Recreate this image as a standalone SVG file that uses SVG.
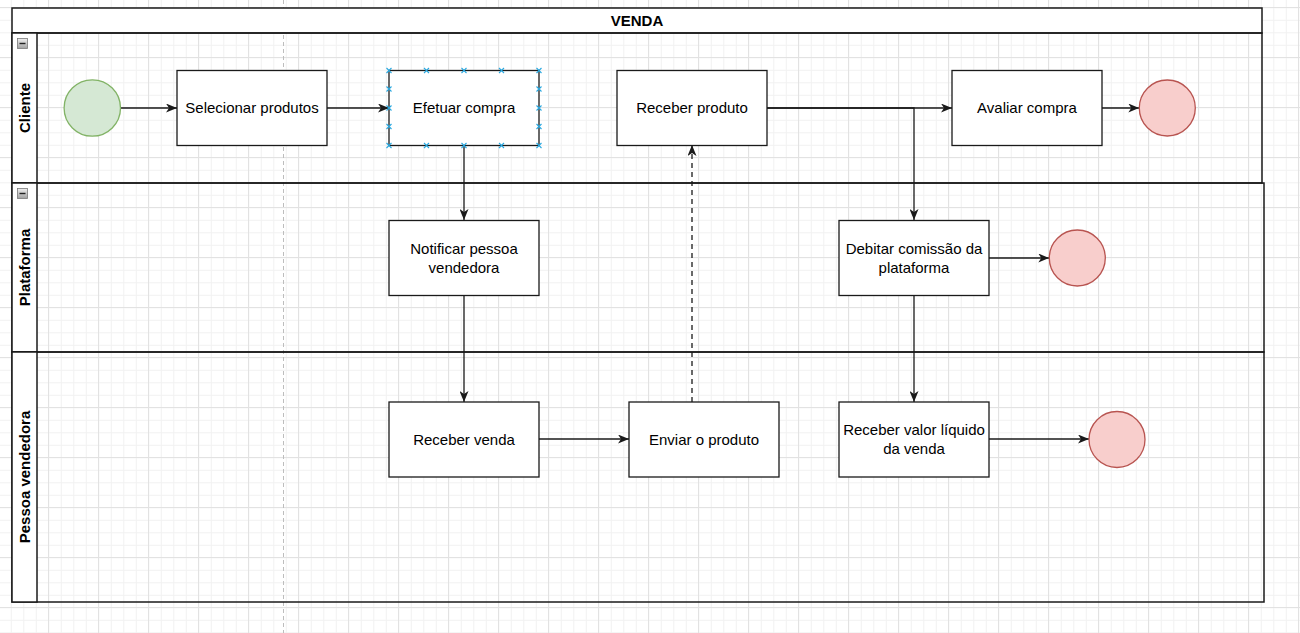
<svg xmlns="http://www.w3.org/2000/svg" width="1300" height="633" viewBox="0 0 1300 633">
  <style>
    .node{fill:#ffffff;stroke:#1a1a1a;stroke-width:1.3}
    .lane{fill:none;stroke:#1a1a1a;stroke-width:1.5}
    .col{fill:#ffffff;stroke:#1a1a1a;stroke-width:1.5}
    .t{font-family:"Liberation Sans",Arial,Helvetica,sans-serif;font-size:15px;text-anchor:middle;fill:#000000}
    .lbl{font-family:"Liberation Sans",Arial,Helvetica,sans-serif;font-size:15px;font-weight:bold;text-anchor:middle;fill:#000000}
    .start{fill:#d5e8d4;stroke:#82b366;stroke-width:1.3}
    .end{fill:#f8cecc;stroke:#b85450;stroke-width:1.3}
    .edge{fill:none;stroke:#1a1a1a;stroke-width:1.3}
    .dash{stroke-dasharray:5,4}
    .sel{fill:none;stroke:#29a8e0;stroke-width:1.1}
    .icon{fill:url(#ig);stroke:#7a7a7a;stroke-width:0.8}
  </style>
  <defs>
    <pattern id="minor" patternUnits="userSpaceOnUse" x="10.8" y="7.3" width="12.5" height="12.5">
      <path d="M0.5,0 V12.5 M0,0.5 H12.5" stroke="#f1f1f1" stroke-width="1" fill="none"/>
    </pattern>
    <pattern id="major" patternUnits="userSpaceOnUse" x="48" y="7" width="50" height="50">
      <path d="M0.5,0 V50 M0,0.5 H50" stroke="#e2e2e2" stroke-width="1" fill="none"/>
    </pattern>
    <linearGradient id="ig" x1="0" y1="0" x2="0" y2="1">
      <stop offset="0" stop-color="#f0f0f0"/>
      <stop offset="1" stop-color="#a0a0a0"/>
    </linearGradient>
    <marker id="arr" markerUnits="userSpaceOnUse" viewBox="0 0 11 9" refX="11" refY="4.5" markerWidth="11" markerHeight="9" orient="auto">
      <path d="M0,0 L11,4.5 L0,9 L3,4.5 Z" fill="#1a1a1a"/>
    </marker>
  </defs>

  <!-- background grid -->
  <rect x="0" y="0" width="1300" height="633" fill="#ffffff"/>
  <rect x="0" y="0" width="1300" height="633" fill="url(#minor)"/>
  <rect x="0" y="0" width="1300" height="633" fill="url(#major)"/>
  <!-- page break -->
  <line x1="283.5" y1="0" x2="283.5" y2="633" stroke="#bdbdbd" stroke-width="1" stroke-dasharray="4,3"/>

  <!-- pool -->
  <g id="pool">
    <rect x="12" y="8" width="1250" height="25" class="col"/>
    <text x="637" y="25.5" class="lbl">VENDA</text>
  </g>
  <g id="lane-cliente">
    <rect x="12" y="33" width="1250" height="150" class="lane"/>
    <rect x="12" y="33" width="25" height="150" class="col"/>
    <rect x="17.5" y="38.5" width="10" height="10" class="icon"/>
    <line x1="19.5" y1="43.5" x2="25.5" y2="43.5" stroke="#222" stroke-width="1.4"/>
    <text transform="translate(30,108) rotate(-90)" class="lbl">Cliente</text>
  </g>
  <g id="lane-plataforma">
    <rect x="12" y="183" width="1252" height="169" class="lane"/>
    <rect x="12" y="183" width="25" height="169" class="col"/>
    <rect x="17.5" y="188.5" width="10" height="10" class="icon"/>
    <line x1="19.5" y1="193.5" x2="25.5" y2="193.5" stroke="#222" stroke-width="1.4"/>
    <text transform="translate(30,267.5) rotate(-90)" class="lbl">Plataforma</text>
  </g>
  <g id="lane-pessoa">
    <rect x="12" y="352" width="1252" height="250" class="lane"/>
    <rect x="12" y="352" width="25" height="250" class="col"/>
    <text transform="translate(30,477) rotate(-90)" class="lbl">Pessoa vendedora</text>
  </g>

  <!-- connectors -->
  <g id="connectors">
    <path d="M120.5,108 H177" class="edge" marker-end="url(#arr)"/>
    <path d="M327,108 H389" class="edge" marker-end="url(#arr)"/>
    <path d="M464,145 V220" class="edge" marker-end="url(#arr)"/>
    <path d="M464,295 V402" class="edge" marker-end="url(#arr)"/>
    <path d="M539,439 H629" class="edge" marker-end="url(#arr)"/>
    <path d="M692,402 V145" class="edge dash" marker-end="url(#arr)"/>
    <path d="M767,108 H952" class="edge" marker-end="url(#arr)"/>
    <path d="M767,108 H914 V220" class="edge" marker-end="url(#arr)"/>
    <path d="M1102,108 H1139.3" class="edge" marker-end="url(#arr)"/>
    <path d="M989,258 H1049.3" class="edge" marker-end="url(#arr)"/>
    <path d="M914,295 V402" class="edge" marker-end="url(#arr)"/>
    <path d="M989,439 H1089" class="edge" marker-end="url(#arr)"/>
  </g>

  <!-- nodes -->
  <g id="start">
    <circle cx="92.3" cy="108" r="28.2" class="start"/>
  </g>
  <g id="selecionar">
    <rect x="177" y="70.5" width="150" height="75" class="node"/>
    <text x="252" y="113" class="t">Selecionar produtos</text>
  </g>
  <g id="efetuar">
    <rect x="389" y="70.5" width="150" height="75" class="node"/>
    <text x="464" y="113" class="t">Efetuar compra</text>
    <path class="sel" d="M386.5,68 l5,5 m0,-5 l-5,5 M424,68 l5,5 m0,-5 l-5,5 M461.5,68 l5,5 m0,-5 l-5,5 M499,68 l5,5 m0,-5 l-5,5 M536.5,68 l5,5 m0,-5 l-5,5 M386.5,143 l5,5 m0,-5 l-5,5 M424,143 l5,5 m0,-5 l-5,5 M461.5,143 l5,5 m0,-5 l-5,5 M499,143 l5,5 m0,-5 l-5,5 M536.5,143 l5,5 m0,-5 l-5,5 M386.5,86.5 l5,5 m0,-5 l-5,5 M386.5,105.5 l5,5 m0,-5 l-5,5 M386.5,124 l5,5 m0,-5 l-5,5 M536.5,86.5 l5,5 m0,-5 l-5,5 M536.5,105.5 l5,5 m0,-5 l-5,5 M536.5,124 l5,5 m0,-5 l-5,5"/>
  </g>
  <g id="receber-produto">
    <rect x="617" y="70.5" width="150" height="75" class="node"/>
    <text x="692" y="113" class="t">Receber produto</text>
  </g>
  <g id="avaliar">
    <rect x="952" y="70.5" width="150" height="75" class="node"/>
    <text x="1027" y="113" class="t">Avaliar compra</text>
  </g>
  <g id="end-cliente">
    <circle cx="1167.3" cy="108" r="28" class="end"/>
  </g>
  <g id="notificar">
    <rect x="389" y="220.5" width="150" height="75" class="node"/>
    <text x="464" y="253.5" class="t">Notificar pessoa</text>
    <text x="464" y="272.5" class="t">vendedora</text>
  </g>
  <g id="debitar">
    <rect x="839" y="220.5" width="150" height="75" class="node"/>
    <text x="914" y="253.5" class="t">Debitar comissão da</text>
    <text x="914" y="272.5" class="t">plataforma</text>
  </g>
  <g id="end-plataforma">
    <circle cx="1077.3" cy="258" r="28" class="end"/>
  </g>
  <g id="receber-venda">
    <rect x="389" y="402" width="150" height="75" class="node"/>
    <text x="464" y="444.5" class="t">Receber venda</text>
  </g>
  <g id="enviar">
    <rect x="629" y="402" width="150" height="75" class="node"/>
    <text x="704" y="444.5" class="t">Enviar o produto</text>
  </g>
  <g id="receber-valor">
    <rect x="839" y="402" width="150" height="75" class="node"/>
    <text x="914" y="435" class="t">Receber valor líquido</text>
    <text x="914" y="454" class="t">da venda</text>
  </g>
  <g id="end-pessoa">
    <circle cx="1117" cy="439.5" r="28" class="end"/>
  </g>
</svg>
